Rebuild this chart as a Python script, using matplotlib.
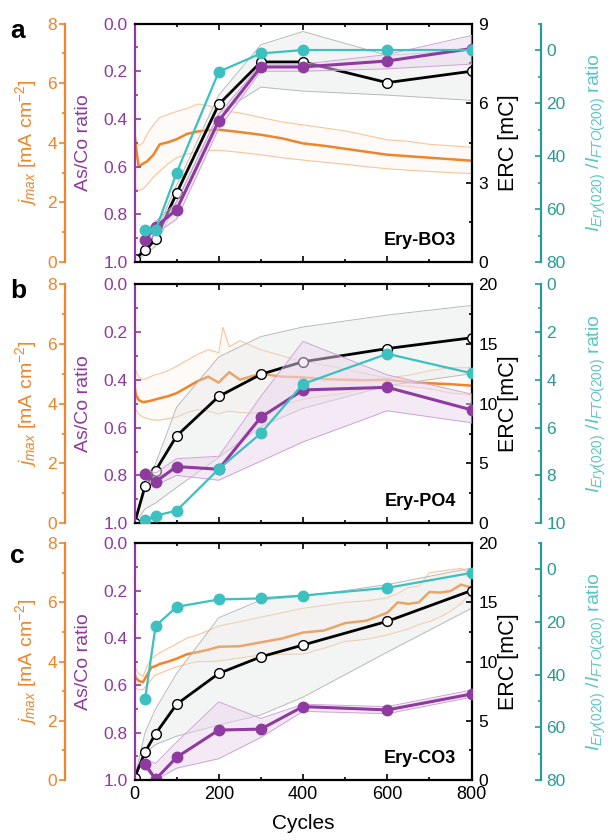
import matplotlib.pyplot as plt
from matplotlib.ticker import MultipleLocator

plt.rcParams['font.family'] = ['Liberation Sans', 'DejaVu Sans']
plt.rcParams['mathtext.fontset'] = 'custom'
plt.rcParams['mathtext.rm'] = 'Liberation Sans'
plt.rcParams['mathtext.it'] = 'Liberation Sans:italic'
plt.rcParams['mathtext.bf'] = 'Liberation Sans:bold'

ORANGE = '#f0842a'
ORANGE_LT = '#f7c59c'
PURPLE = '#8e3a9f'
PURPLE_LT = '#ead6ef'
PURPLE_ED = '#cfa3d8'
TEAL = '#3cc0c0'
TEAL_AX = '#2a9a97'
TEAL_LBL = '#5cc6c4'
GRAY_LT = '#dfe5e5'
GRAY_ED = '#b9b9b9'

# cycle numbers of the discrete measurements
cycles = [0, 25, 50, 100, 200, 300, 400, 600, 800]
cycles_s = [25, 50, 100, 200, 300, 400, 600, 800]

# ---- panel a : Ery-BO3
a_erc = [0.1, 0.44, 0.86, 2.6, 5.95, 7.55, 7.55, 6.77, 7.2]
a_erc_hi = [0.1, 0.6, 1.1, 2.9, 6.3, 8.2, 8.7, 7.8, 8.0]
a_erc_lo = [0.0, 0.3, 0.6, 2.3, 5.6, 6.6, 6.45, 6.3, 6.1]
a_ratio = [0.906, 0.853, 0.78, 0.408, 0.182, 0.182, 0.157, 0.105]
a_ratio_hi = [0.88, 0.83, 0.75, 0.38, 0.17, 0.17, 0.13, 0.05]
a_ratio_lo = [0.93, 0.88, 0.82, 0.44, 0.20, 0.20, 0.19, 0.17]
a_xrd = [68, 68, 46.3, 8.2, 1.3, 0, 0, 0]
a_jc = [0, 3, 10, 20, 30, 45, 60, 80, 100, 125, 150, 175, 200, 250, 300,
        350, 400, 450, 500, 550, 600, 650, 700, 750, 800]
a_j = [4.35, 3.9, 3.2, 3.3, 3.38, 3.6, 3.95, 4.02, 4.12, 4.3, 4.38, 4.42, 4.44,
       4.36, 4.27, 4.15, 3.98, 3.9, 3.8, 3.7, 3.6, 3.55, 3.5, 3.45, 3.4]
a_j_hi = [4.4, 4.1, 3.9, 4.0, 4.3, 4.6, 4.85, 4.95, 5.05, 5.15, 5.3, 5.25, 5.1,
          5.0, 4.85, 4.7, 4.6, 4.5, 4.4, 4.25, 4.1, 4.05, 3.95, 3.9, 3.85]
a_j_lo = [2.5, 2.45, 2.4, 2.45, 2.6, 2.85, 3.05, 3.3, 3.5, 3.62, 3.7, 3.74, 3.75,
          3.68, 3.6, 3.5, 3.42, 3.35, 3.28, 3.2, 3.13, 3.08, 3.04, 3.0, 2.97]

# ---- panel b : Ery-PO4
b_erc = [0.0, 3.1, 4.4, 7.3, 10.6, 12.45, 13.5, 14.6, 15.5]
b_erc_hi = [0.0, 3.3, 5.0, 9.7, 13.9, 15.6, 16.4, 17.4, 18.2]
b_erc_lo = [0.0, 1.2, 1.7, 3.0, 5.5, 8.1, 9.6, 11.5, 12.5]
b_ratio = [0.794, 0.826, 0.763, 0.774, 0.557, 0.443, 0.432, 0.526]
b_ratio_hi = [0.77, 0.79, 0.73, 0.72, 0.47, 0.24, 0.38, 0.46]
b_ratio_lo = [0.82, 0.84, 0.80, 0.82, 0.74, 0.66, 0.53, 0.58]
b_xrd = [9.86, 9.68, 9.47, 7.73, 6.24, 4.18, 2.92, 3.73]
b_jc = [0, 3, 10, 20, 30, 45, 60, 80, 100, 125, 150, 175, 200, 210, 225, 250,
        300, 350, 400, 450, 500, 550, 600, 650, 700, 750, 800]
b_j = [4.6, 4.3, 4.12, 4.05, 4.07, 4.12, 4.18, 4.25, 4.35, 4.55, 4.75, 4.9, 4.7,
       4.85, 5.05, 4.8, 5.0, 4.9, 4.88, 4.82, 4.8, 4.78, 4.8, 4.72, 4.68, 4.65, 4.6]
b_j_hi = [5.3, 5.1, 4.9, 4.8, 4.85, 4.95, 5.0, 5.1, 5.25, 5.45, 5.65, 5.8, 5.7,
          6.55, 5.9, 6.1, 5.8, 5.6, 5.4, 5.3, 5.15, 5.0, 4.85, 4.95, 5.1, 5.2, 5.2]
b_j_lo = [3.9, 3.8, 3.65, 3.55, 3.5, 3.45, 3.45, 3.5, 3.55, 3.7, 3.8, 3.75, 3.65,
          3.7, 3.75, 3.7, 3.68, 3.95, 4.15, 4.25, 4.35, 4.5, 4.62, 4.58, 4.5, 4.35, 4.3]

# ---- panel c : Ery-CO3
c_erc = [0.17, 2.37, 3.9, 6.4, 9.0, 10.4, 11.4, 13.4, 16.0]
c_erc_hi = [0.17, 4.0, 6.0, 9.0, 13.7, 15.2, 15.5, 16.5, 17.9]
c_erc_lo = [0.17, 2.25, 3.0, 3.7, 4.65, 5.5, 7.0, 10.8, 14.5]
c_ratio = [0.932, 0.997, 0.904, 0.789, 0.785, 0.69, 0.704, 0.637]
c_ratio_hi = [0.91, 0.93, 0.84, 0.67, 0.74, 0.68, 0.69, 0.62]
c_ratio_lo = [0.95, 1.0, 0.95, 0.91, 0.82, 0.71, 0.72, 0.65]
c_xrd = [49.4, 21.5, 14.2, 11.4, 11.0, 9.9, 7.0, 1.3]
c_jc = [0, 3, 10, 20, 30, 40, 50, 60, 80, 100, 125, 150, 175, 200, 250, 300,
        350, 400, 450, 500, 550, 600, 625, 650, 675, 700, 725, 750, 775, 800]
c_j = [3.6, 3.45, 3.35, 3.3, 3.55, 3.8, 3.85, 3.92, 4.0, 4.1, 4.25, 4.32, 4.4,
       4.5, 4.52, 4.65, 4.78, 4.98, 5.05, 5.3, 5.38, 5.65, 6.0, 5.95, 6.0, 6.35,
       6.33, 6.38, 6.6, 6.5]
c_j_hi = [3.85, 3.75, 3.6, 3.5, 3.85, 4.1, 4.2, 4.3, 4.45, 4.6, 4.8, 4.9, 5.05,
          5.2, 5.35, 5.5, 5.65, 5.8, 5.9, 6.0, 6.05, 6.15, 6.3, 6.5, 6.55, 7.0,
          7.05, 7.1, 7.15, 6.95]
c_j_lo = [3.15, 3.1, 3.05, 3.05, 3.2, 3.4, 3.55, 3.6, 3.72, 3.82, 3.92, 4.0, 4.0,
          4.02, 4.12, 4.22, 4.25, 4.25, 4.45, 4.68, 4.75, 4.9, 5.0, 5.1, 5.25, 5.35,
          5.5, 5.7, 5.95, 6.35]


def panel(fig, rect, name, erc, erc_hi, erc_lo, ratio, ratio_hi, ratio_lo,
          xrd, jc, j, j_hi, j_lo, erc_max, erc_step, xrd_lim, xrd_step, last=False):
    ax = fig.add_axes(rect)
    ax_j = ax.twinx()
    ax_e = ax.twinx()
    ax_t = ax.twinx()
    ax_j.set_zorder(1)
    ax_e.set_zorder(2)
    ax.set_zorder(3)
    ax_t.set_zorder(4)
    ax.patch.set_visible(False)

    # orange j_max trace with spread
    ax_j.fill_between(jc, j_lo, j_hi, color=ORANGE_LT, alpha=0.07, lw=0)
    ax_j.plot(jc, j_hi, color=ORANGE_LT, lw=0.8)
    ax_j.plot(jc, j_lo, color=ORANGE_LT, lw=0.8)
    ax_j.plot(jc, j, color=ORANGE, lw=1.8)
    ax_j.set_ylim(0, 8)

    # ERC
    ax_e.fill_between(cycles, erc_lo, erc_hi, color=GRAY_LT, alpha=0.35, lw=0)
    ax_e.plot(cycles, erc_hi, color=GRAY_ED, lw=0.7)
    ax_e.plot(cycles, erc_lo, color=GRAY_ED, lw=0.7)
    ax_e.plot(cycles, erc, color='black', lw=2, marker='o', ms=7,
              mfc='white', mec='black', mew=1)
    ax_e.set_ylim(0, erc_max)

    # As/Co ratio
    ax.fill_between(cycles_s, ratio_lo, ratio_hi, color=PURPLE_LT, alpha=0.5, lw=0)
    ax.plot(cycles_s, ratio_hi, color=PURPLE_ED, lw=0.7)
    ax.plot(cycles_s, ratio_lo, color=PURPLE_ED, lw=0.7)
    ax.plot(cycles_s, ratio, color=PURPLE, lw=2.2, marker='o', ms=7.5,
            mfc=PURPLE, mec=PURPLE)
    ax.set_ylim(1, 0)

    # XRD intensity ratio
    ax_t.plot(cycles_s, xrd, color=TEAL, lw=1.6, marker='o', ms=7.5,
              mfc=TEAL, mec=TEAL)
    ax_t.set_ylim(*xrd_lim)

    ax.set_xlim(0, 800)
    ax.xaxis.set_major_locator(MultipleLocator(200))
    ax.xaxis.set_minor_locator(MultipleLocator(100))
    ax.tick_params(axis='x', which='both', direction='in', top=True,
                   labelsize=13, width=1.2, pad=4)
    ax.tick_params(axis='x', which='major', length=4)
    ax.tick_params(axis='x', which='minor', length=2.5)
    if not last:
        ax.tick_params(axis='x', labelbottom=False)
    else:
        ax.set_xlabel('Cycles', fontsize=15, labelpad=8)

    # spines
    for s in ['top', 'bottom']:
        ax.spines[s].set_linewidth(1.6)
    ax.spines['right'].set_visible(False)
    ax.spines['left'].set_color(PURPLE)
    ax.spines['left'].set_linewidth(1.6)
    for a in (ax_j, ax_e, ax_t):
        for s in ['top', 'bottom', 'left', 'right']:
            a.spines[s].set_visible(False)

    # purple axis
    ax.yaxis.set_major_locator(MultipleLocator(0.2))
    ax.yaxis.set_minor_locator(MultipleLocator(0.1))
    ax.yaxis.set_major_formatter(lambda v, p: f'{v:.1f}')
    ax.tick_params(axis='y', which='both', direction='in', colors=PURPLE,
                   labelsize=12.5, width=1.2, pad=5)
    ax.tick_params(axis='y', which='major', length=4)
    ax.tick_params(axis='y', which='minor', length=2.5)
    ax.set_ylabel('As/Co ratio', color=PURPLE, fontsize=14)
    ax.yaxis.set_label_coords(-0.125, 0.5)

    # orange axis, offset left
    ax_j.yaxis.tick_left()
    ax_j.yaxis.set_label_position('left')
    ax_j.spines['left'].set_visible(True)
    ax_j.spines['left'].set_position(('axes', -0.205))
    ax_j.spines['left'].set_color(ORANGE)
    ax_j.spines['left'].set_linewidth(1.6)
    ax_j.yaxis.set_major_locator(MultipleLocator(2))
    ax_j.yaxis.set_minor_locator(MultipleLocator(1))
    ax_j.tick_params(axis='y', which='both', direction='out', colors=ORANGE,
                     labelsize=12.5, width=1.2, pad=2)
    ax_j.tick_params(axis='y', which='major', length=4)
    ax_j.tick_params(axis='y', which='minor', length=2.5)
    ax_j.set_ylabel(r'$j_{max}$ [mA cm$^{-2}$]', color=ORANGE, fontsize=14)
    ax_j.yaxis.set_label_coords(-0.283, 0.5)

    # ERC axis
    ax_e.spines['right'].set_visible(True)
    ax_e.spines['right'].set_linewidth(1.6)
    ax_e.yaxis.set_major_locator(MultipleLocator(erc_step))
    ax_e.yaxis.set_minor_locator(MultipleLocator(erc_step / 2))
    ax_e.tick_params(axis='y', which='both', direction='in',
                     labelsize=12.5, width=1.2, pad=5)
    ax_e.tick_params(axis='y', which='major', length=4)
    ax_e.tick_params(axis='y', which='minor', length=2.5)
    ax_e.set_ylabel('ERC [mC]', fontsize=15.5)
    ax_e.yaxis.set_label_coords(1.08, 0.5)

    # teal axis, offset right
    ax_t.spines['right'].set_visible(True)
    ax_t.spines['right'].set_position(('axes', 1.205))
    ax_t.spines['right'].set_color(TEAL_AX)
    ax_t.spines['right'].set_linewidth(1.6)
    ax_t.set_yticks([v for v in range(0, int(max(xrd_lim)) + 1, xrd_step)])
    ax_t.yaxis.set_minor_locator(MultipleLocator(xrd_step / 2))
    ax_t.tick_params(axis='y', which='both', direction='in', colors=TEAL_AX,
                     labelsize=12.5, width=1.2, pad=4)
    ax_t.tick_params(axis='y', which='major', length=4)
    ax_t.tick_params(axis='y', which='minor', length=2.5)
    ax_t.set_ylabel(r'$I_{Ery(020)}$ /$I_{FTO(200)}$ ratio', color=TEAL_LBL,
                    fontsize=14)
    ax_t.yaxis.set_label_coords(1.335, 0.5)

    ax_t.text(0.953, 0.09, name, transform=ax_t.transAxes, ha='right',
              va='center', fontsize=13, fontweight='bold')
    return ax


fig = plt.figure(figsize=(6.15, 8.4), dpi=100)
W, L = 0.548, 0.2187
panel(fig, [L, 0.688, W, 0.284], 'Ery-BO3', a_erc, a_erc_hi, a_erc_lo,
      a_ratio, a_ratio_hi, a_ratio_lo, a_xrd, a_jc, a_j, a_j_hi, a_j_lo,
      9, 3, (80, -10), 20)
panel(fig, [L, 0.377, W, 0.285], 'Ery-PO4', b_erc, b_erc_hi, b_erc_lo,
      b_ratio, b_ratio_hi, b_ratio_lo, b_xrd, b_jc, b_j, b_j_hi, b_j_lo,
      20, 5, (10, 0), 2)
panel(fig, [L, 0.0714, W, 0.282], 'Ery-CO3', c_erc, c_erc_hi, c_erc_lo,
      c_ratio, c_ratio_hi, c_ratio_lo, c_xrd, c_jc, c_j, c_j_hi, c_j_lo,
      20, 5, (80, -10), 20, last=True)

for letter, ypx in [('a', 38), ('b', 298), ('c', 563)]:
    fig.text(0.016, 1 - ypx / 840, letter, fontsize=19, fontweight='bold',
             va='baseline', ha='left')

fig.savefig('out.png', dpi=100)
